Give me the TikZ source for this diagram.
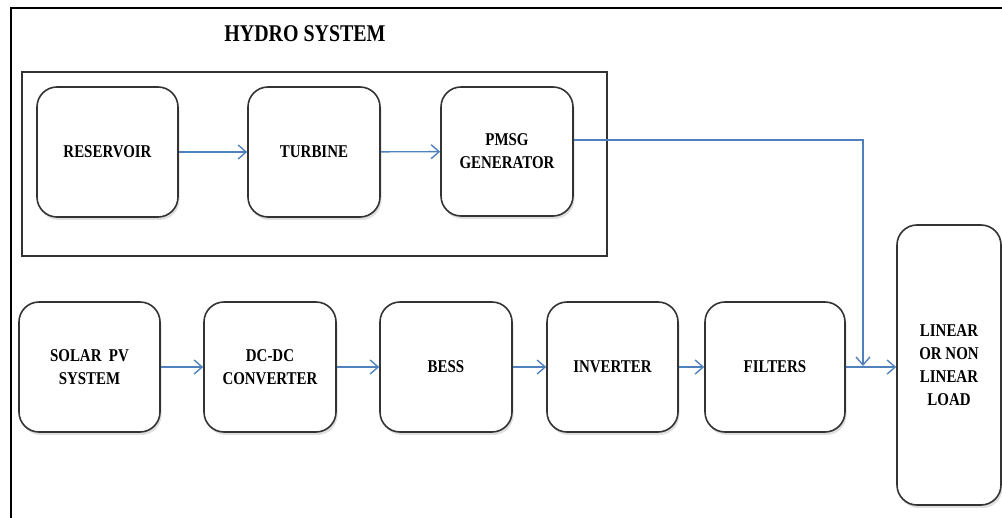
\documentclass[tikz,border=0pt]{standalone}
\usepackage{fontspec}
\setmainfont{Liberation Serif}[FakeStretch=0.83]
\usetikzlibrary{arrows.meta,shadows,calc}
\definecolor{arrowblue}{HTML}{4F81BD}
\definecolor{boxline}{HTML}{333333}
\tikzset{
  blockbox/.style={draw=boxline, line width=1.6pt, rounded corners=20pt, fill=white,
    align=center, inner sep=2pt,
    font=\fontsize{18}{23}\selectfont\bfseries,
    drop shadow={opacity=0.25, shadow xshift=1.5pt, shadow yshift=-3pt}},
  flow/.style={draw=arrowblue, line width=1.4pt, -{Straight Barb[length=8pt,width=14pt]}},
  frameline/.style={draw=black, line width=2pt},
  groupbox/.style={draw=boxline, line width=1.6pt}
}
\begin{document}
\begin{tikzpicture}[x=1pt,y=-1pt]
\useasboundingbox (0,0) rectangle (1002,518);
% outer frame (only top and left visible)
\draw[frameline] (11,518) -- (11,8) -- (1002,8);
% hydro group
\node[font=\fontsize{24}{28}\selectfont\bfseries] (title) at (305,34) {HYDRO SYSTEM};
\node[groupbox, minimum width=585pt, minimum height=184pt, inner sep=0pt] (hydro) at (314.5,164) {};
% hydro row
\node[blockbox, minimum width=141pt, minimum height=130pt] (res) at (107.5,152) {RESERVOIR};
\node[blockbox, minimum width=132pt, minimum height=130pt] (tur) at (314,152) {TURBINE};
\node[blockbox, minimum width=132pt, minimum height=129pt] (pmsg) at (507,151.5) {PMSG\\GENERATOR};
% bottom row
\node[blockbox, minimum width=141pt, minimum height=130pt] (pv) at (89.5,367) {SOLAR\ \ PV\\SYSTEM};
\node[blockbox, minimum width=132pt, minimum height=130pt] (dcdc) at (270,367) {DC-DC\\CONVERTER};
\node[blockbox, minimum width=132pt, minimum height=130pt] (bess) at (446,367) {BESS};
\node[blockbox, minimum width=131pt, minimum height=130pt] (inv) at (612.5,367) {INVERTER};
\node[blockbox, minimum width=140pt, minimum height=130pt] (filt) at (775,367) {FILTERS};
\node[blockbox, minimum width=104pt, minimum height=280pt] (load) at (949,365) {LINEAR\\OR NON\\LINEAR\\LOAD};
% connectors
\draw[flow] (res) -- (tur);
\draw[flow] (tur) -- (pmsg);
\draw[flow] (pv) -- (dcdc);
\draw[flow] (dcdc) -- (bess);
\draw[flow] (bess) -- (inv);
\draw[flow] (inv) -- (filt);
\draw[flow] (filt.east) -- (filt.east -| load.west);
\coordinate (junc) at (863,366);
\draw[flow] ($(pmsg.east)+(0,-11.5)$) -| (junc);
\end{tikzpicture}
\end{document}
